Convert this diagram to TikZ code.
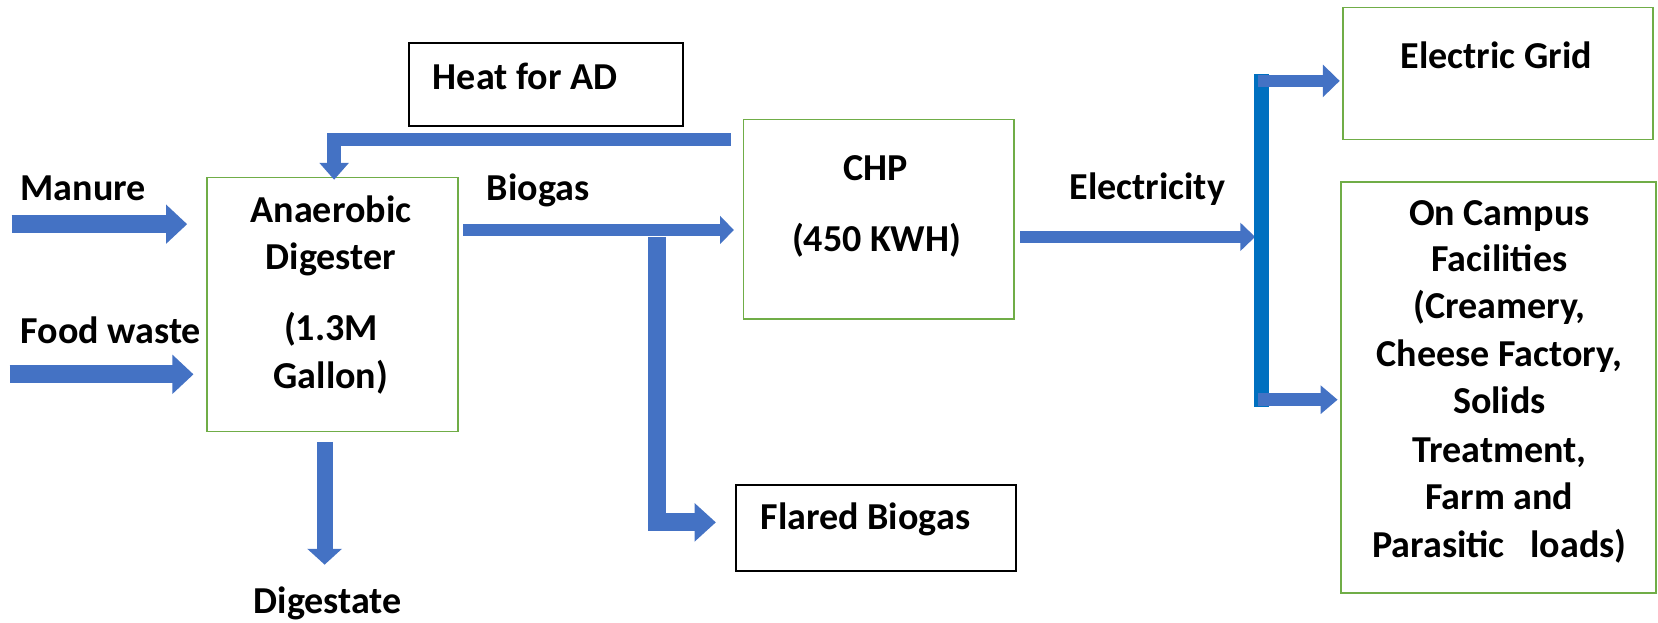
\documentclass[tikz,border=0pt]{standalone}
\usepackage{fontspec}
\setmainfont{Carlito}
\usetikzlibrary{arrows.meta}
\definecolor{arrowblue}{HTML}{4472C4}
\definecolor{busblue}{HTML}{0070C0}
\definecolor{boxgreen}{HTML}{70AD47}
\begin{document}
\begin{tikzpicture}[x=0.5pt,y=-0.5pt,
  font=\fontsize{18pt}{22pt}\selectfont\bfseries,
  gbox/.style n args={2}{draw=boxgreen, line width=0.8pt, inner sep=0pt, minimum width=#1, minimum height=#2},
  bbox/.style n args={2}{draw=black, line width=1pt, inner sep=0pt, minimum width=#1, minimum height=#2},
  lbl/.style={inner sep=0pt, anchor=base west},
  ctr/.style={inner sep=0pt, anchor=base},
  flow/.style n args={3}{draw=arrowblue, line width=#1, line join=miter, -{Triangle[length=#3,width=#2]}},
  bus/.style={draw=busblue, line width=7pt}
]
\useasboundingbox (0,0) rectangle (1568,589);
% boxes
\node[bbox={129.5pt}{39pt}] (heat) at (516.5,80) {};
\node[gbox={118.5pt}{120pt}] (dig) at (314.5,288) {};
\node[gbox={128pt}{94.5pt}] (chp) at (831,207.5) {};
\node[bbox={132.5pt}{40.5pt}] (flare) at (828.5,499.5) {};
\node[gbox={146.5pt}{62.5pt}] (grid) at (1416.5,69.5) {};
\node[gbox={149pt}{194.5pt}] (campus) at (1417,366.5) {};
% texts
\node[lbl] (theat) at (409,85) {Heat for AD};
\node[lbl] (tman) at (19,190) {Manure};
\node[lbl] (tfood) at (19,325) {Food waste};
\node[lbl] (tbio) at (460,190) {Biogas};
\node[ctr] (td1) at (313,210) {Anaerobic};
\node[ctr] (td2) at (313,255) {Digester};
\node[ctr] (td3) at (313,322) {(1.3M};
\node[ctr] (td4) at (313,367) {Gallon)};
\node[ctr] (tchp1) at (828,171) {CHP};
\node[ctr] (tchp2) at (829,238) {(450 KWH)};
\node[lbl] (telec) at (1011,189) {Electricity};
\node[lbl] (tflare) at (719,501) {Flared Biogas};
\node[ctr] (tdig) at (310,580) {Digestate};
\node[ctr] (tgrid) at (1415,65) {Electric Grid};
\node[ctr] (tc1) at (1418,213) {On Campus};
\node[ctr] (tc2) at (1418,257) {Facilities};
\node[ctr] (tc3) at (1418,301) {(Creamery,};
\node[ctr] (tc4) at (1418,347) {Cheese Factory,};
\node[ctr] (tc5) at (1418,391) {Solids};
\node[ctr] (tc6) at (1418,437) {Treatment,};
\node[ctr] (tc7) at (1418,482) {Farm and};
\node[ctr] (tc8) at (1418,527) {Parasitic\ \ \ loads)};
% connector coordinates
\coordinate (manS) at (11,212);   \coordinate (manE) at (177,212);
\coordinate (foodS) at (9,354);   \coordinate (foodE) at (183,354);
\coordinate (heatS) at (691,132); \coordinate (heatE) at (316,170);
\coordinate (bioS) at (438,217.5);\coordinate (bioE) at (694,217.5);
\coordinate (flS) at (621,224);   \coordinate (flE) at (677,494);
\coordinate (digS) at (307,418);  \coordinate (digE) at (307,534);
\coordinate (elS) at (965,224);   \coordinate (elE) at (1187,224);
\coordinate (busT) at (1193,70);  \coordinate (busB) at (1193,385);
\coordinate (grS) at (1190,76.5); \coordinate (grE) at (1267,76.5);
\coordinate (caS) at (1190,378);  \coordinate (caE) at (1265,378);
% connectors
\draw[flow={8.5pt}{18pt}{10pt}] (manS) -- (manE);
\draw[flow={8.5pt}{18pt}{10pt}] (foodS) -- (foodE);
\draw[flow={6.3pt}{13.5pt}{8pt}] (heatS) -| (heatE);
\draw[flow={6pt}{13pt}{6.5pt}] (bioS) -- (bioE);
\draw[flow={8.5pt}{17.5pt}{10pt}] (flS) |- (flE);
\draw[flow={7.5pt}{16pt}{7.5pt}] (digS) -- (digE);
\draw[flow={6pt}{13pt}{7pt}] (elS) -- (elE);
\draw[bus] (busT) -- (busB);
\draw[flow={6pt}{15pt}{8pt}] (grS) -- (grE);
\draw[flow={6pt}{13pt}{8pt}] (caS) -- (caE);
\end{tikzpicture}
\end{document}
